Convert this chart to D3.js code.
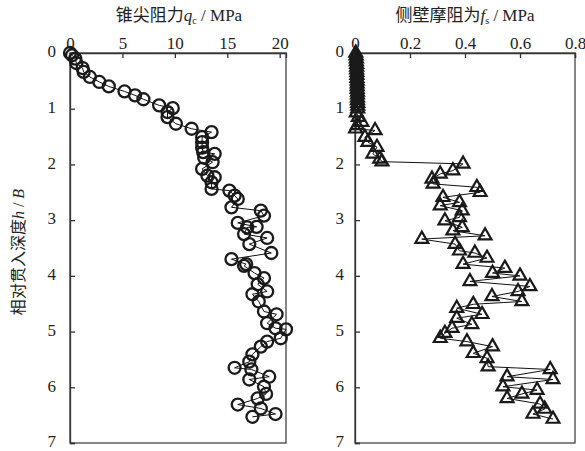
<!DOCTYPE html>
<html>
<head>
<meta charset="utf-8">
<script src="https://cdn.jsdelivr.net/npm/d3@7"></script>
<style>
body { margin: 0; background: #fff; }
</style>
</head>
<body>
<div id="canvas"></div>
<script>
var w = 585;
var h = 451;
var serif = "Liberation Serif";
var cjk = "Noto Sans CJK SC";

// cone tip resistance q_c (MPa) vs relative depth h/B
var qcDepth = [0, 0.04, 0.1, 0.18, 0.27, 0.34, 0.43, 0.52, 0.6, 0.69,
  0.76, 0.83, 0.94, 0.99, 1.06, 1.15, 1.27, 1.36, 1.42, 1.51,
  1.6, 1.7, 1.78, 1.81, 1.88, 1.96, 2.08, 2.2, 2.23, 2.32,
  2.44, 2.47, 2.56, 2.62, 2.77, 2.83, 2.92, 3.05, 3.12, 3.13,
  3.25, 3.32, 3.43, 3.59, 3.7, 3.79, 3.82, 3.95, 4.04, 4.15,
  4.28, 4.33, 4.46, 4.64, 4.69, 4.85, 4.94, 4.96, 5.12, 5.18,
  5.27, 5.41, 5.54, 5.65, 5.68, 5.81, 5.86, 5.99, 6.12, 6.2,
  6.31, 6.38, 6.48, 6.53];
var qcValue = [0, 0.2, 0.5, 0.6, 1.2, 1.3, 1.9, 2.8, 3.7, 5.2,
  6.2, 7.0, 8.5, 9.8, 9.3, 9.3, 10.1, 11.6, 13.5, 12.6,
  12.6, 12.6, 12.7, 13.8, 12.8, 13.6, 12.6, 13.1, 13.8, 13.5,
  13.5, 15.2, 15.7, 16.0, 15.4, 18.2, 18.5, 16.0, 17.8, 16.9,
  16.6, 18.8, 17.1, 19.2, 15.4, 16.8, 16.6, 17.6, 18.5, 17.9,
  18.8, 17.4, 18.0, 18.5, 19.7, 18.8, 19.6, 20.6, 20.1, 18.8,
  18.2, 17.4, 17.1, 15.7, 17.3, 19.0, 17.1, 18.5, 18.7, 17.9,
  16.0, 18.2, 19.6, 17.4];

// sleeve friction f_s (MPa) vs relative depth h/B
var fsDepth = [0, 0.05, 0.1, 0.15, 0.2, 0.25, 0.3, 0.35, 0.4, 0.45,
  0.5, 0.55, 0.6, 0.65, 0.7, 0.75, 0.8, 0.85, 0.9, 0.95,
  1.0, 1.07, 1.15, 1.24, 1.3, 1.36, 1.39, 1.51, 1.6, 1.69,
  1.81, 1.9, 1.95, 1.99, 2.11, 2.17, 2.26, 2.35, 2.41, 2.5,
  2.59, 2.68, 2.74, 2.83, 2.95, 3.01, 3.13, 3.19, 3.28, 3.34,
  3.43, 3.55, 3.59, 3.68, 3.79, 3.86, 3.95, 4.0, 4.1, 4.19,
  4.28, 4.37, 4.46, 4.51, 4.58, 4.69, 4.76, 4.87, 4.94, 5.03,
  5.12, 5.18, 5.27, 5.39, 5.48, 5.63, 5.68, 5.81, 5.86, 5.99,
  6.05, 6.12, 6.2, 6.3, 6.39, 6.48, 6.57];
var fsValue = [0.003, 0.004, 0.005, 0.005, 0.006, 0.006, 0.006, 0.007, 0.007, 0.007,
  0.008, 0.008, 0.008, 0.008, 0.009, 0.009, 0.009, 0.009, 0.01, 0.01,
  0.01, 0.005, 0.012, 0.025, 0.008, 0.002, 0.073, 0.036, 0.047, 0.08,
  0.065, 0.09, 0.098, 0.393, 0.356, 0.31, 0.28, 0.284, 0.443, 0.455,
  0.32, 0.38, 0.31, 0.39, 0.38, 0.327, 0.39, 0.356, 0.473, 0.243,
  0.364, 0.38, 0.436, 0.48, 0.393, 0.545, 0.5, 0.6, 0.418, 0.636,
  0.593, 0.498, 0.607, 0.43, 0.37, 0.462, 0.37, 0.425, 0.353, 0.327,
  0.31, 0.407, 0.5, 0.43, 0.48, 0.484, 0.71, 0.553, 0.72, 0.538,
  0.662, 0.607, 0.553, 0.673, 0.69, 0.647, 0.72];

var depthTicks = [0, 1, 2, 3, 4, 5, 6, 7];
var qcTicks = [0, 5, 10, 15, 20];
var fsTicks = [0, 0.2, 0.4, 0.6, 0.8];

var plotTop = 53, plotBottom = 443;

var svg = d3.select("#canvas")
  .append("svg")
  .attr("width", w)
  .attr("height", h)
  .style("background-color", "white");

var yScale = d3.scaleLinear().domain([0, 7]).range([plotTop, plotBottom]);
var xLeft = d3.scaleLinear().domain([0, 20.6]).range([70, 286]);
var xRight = d3.scaleLinear().domain([0, 0.8]).range([355, 575]);

function drawPanel(x, ticks, fmt, depth, values, symbol, labelPad) {
  var x0 = x.range()[0], x1 = x.range()[1];

  // frame
  svg.append("rect")
    .attr("x", x0).attr("y", plotTop)
    .attr("width", x1 - x0).attr("height", plotBottom - plotTop)
    .attr("fill", "none")
    .attr("stroke", "#444")
    .attr("stroke-width", 1.3);

  var xAxis = d3.axisTop(x).tickValues(ticks).tickSize(-5).tickPadding(4).tickFormat(fmt);
  var gx = svg.append("g").attr("transform", "translate(0," + plotTop + ")").call(xAxis);
  var yAxis = d3.axisLeft(yScale).tickValues(depthTicks).tickSize(-5).tickPadding(labelPad).tickFormat(d3.format("d"));
  var gy = svg.append("g").attr("transform", "translate(" + x0 + ",0)").call(yAxis);

  [gx, gy].forEach(function(g) {
    g.attr("font-family", serif).attr("font-size", 17);
    g.select(".domain").attr("stroke", "#333").attr("stroke-width", 1.3);
    g.selectAll(".tick line").attr("stroke", "#333").attr("stroke-width", 1.3);
    g.selectAll("text").style("font-family", serif).style("font-size", "17px").attr("fill", "#222");
  });
  gy.selectAll("text").attr("dy", "0.22em");

  var pts = depth.map(function(d, i) { return [values[i], d]; });

  svg.append("path")
    .datum(pts)
    .attr("fill", "none")
    .attr("stroke", "#111")
    .attr("stroke-width", 1)
    .attr("d", d3.line().x(function(d) { return x(d[0]); }).y(function(d) { return yScale(d[1]); }));

  if (symbol === "circle") {
    svg.selectAll(null)
      .data(pts)
      .join("circle")
      .attr("cx", function(d) { return x(d[0]); })
      .attr("cy", function(d) { return yScale(d[1]); })
      .attr("r", 6)
      .attr("fill", "none")
      .attr("stroke", "#1a1a1a")
      .attr("stroke-width", 2.3);
  } else {
    var tri = d3.symbol().type(d3.symbolTriangle).size(72);
    svg.selectAll(null)
      .data(pts)
      .join("path")
      .attr("transform", function(d) { return "translate(" + x(d[0]) + "," + yScale(d[1]) + ")"; })
      .attr("d", tri)
      .attr("fill", "none")
      .attr("stroke", "#1a1a1a")
      .attr("stroke-width", 2.2);
  }
}

drawPanel(xLeft, qcTicks, d3.format("d"), qcDepth, qcValue, "circle", 14);
drawPanel(xRight, fsTicks, function(d) { return d === 0 ? "0" : d3.format(".1f")(d); }, fsDepth, fsValue, "triangle", 11);

// titles
var t1 = svg.append("text")
  .attr("x", 179).attr("y", 21)
  .attr("text-anchor", "middle")
  .attr("font-size", 17)
  .attr("fill", "#222");
t1.append("tspan").attr("font-family", cjk).text("锥尖阻力");
t1.append("tspan").attr("font-family", serif).attr("font-style", "italic").text("q");
t1.append("tspan").attr("font-family", serif).attr("font-size", 10).attr("dy", 3).text("c");
t1.append("tspan").attr("font-family", serif).attr("dy", -3).text(" / MPa");

var t2 = svg.append("text")
  .attr("x", 465).attr("y", 21)
  .attr("text-anchor", "middle")
  .attr("font-size", 17)
  .attr("fill", "#222");
t2.append("tspan").attr("font-family", cjk).text("侧壁摩阻为");
t2.append("tspan").attr("font-family", serif).attr("font-style", "italic").text("f");
t2.append("tspan").attr("font-family", serif).attr("font-size", 10).attr("dy", 3).text("s");
t2.append("tspan").attr("font-family", serif).attr("dy", -3).text(" / MPa");

// y label
var yl = svg.append("text")
  .attr("transform", "translate(24,252) rotate(-90)")
  .attr("text-anchor", "middle")
  .attr("font-size", 16)
  .attr("fill", "#222");
yl.append("tspan").attr("font-family", cjk).text("相对贯入深度");
yl.append("tspan").attr("font-family", serif).attr("font-style", "italic").text("h");
yl.append("tspan").attr("font-family", serif).text(" / ");
yl.append("tspan").attr("font-family", serif).attr("font-style", "italic").text("B");
</script>
</body>
</html>
